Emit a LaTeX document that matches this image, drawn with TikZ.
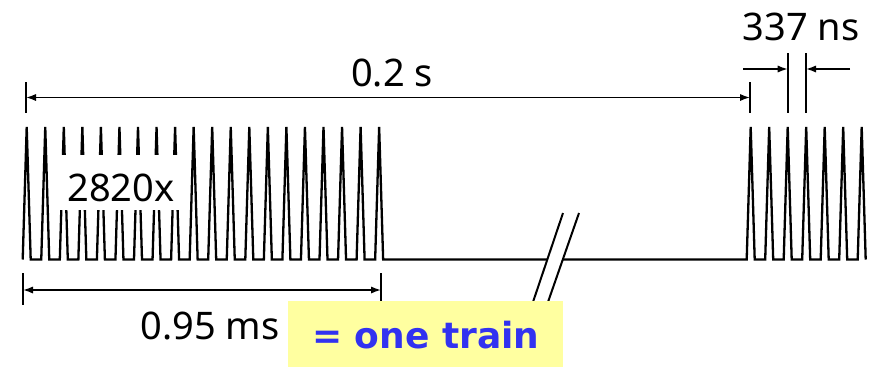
\documentclass[tikz,border=0pt]{standalone}
\usepackage{fontspec}
\setmainfont{Noto Sans}
\newfontfamily\trainfont{DejaVu Sans}
\usetikzlibrary{arrows.meta}
\definecolor{PulseClr}{RGB}{0,0,0}
\definecolor{NoteClr}{RGB}{255,255,160}
\definecolor{TrainClr}{RGB}{50,50,240}

\begin{document}
\begin{tikzpicture}[x=0.5pt,y=-0.5pt,
  pulse/.style={line width=1.15pt,draw=PulseClr,line join=miter},
  tick/.style={line width=1pt},
  dim/.style={line width=0.75pt,{Latex[length=5pt,width=3.6pt]}-{Latex[length=5pt,width=3.6pt]}},
  dimto/.style={line width=0.75pt,-{Latex[length=5pt,width=3.6pt]}},
  lbl/.style={font=\fontsize{19}{22}\selectfont,inner sep=0pt}]
\useasboundingbox (0,0) rectangle (879,366);

% one train (left) and start of next one (right)
\draw[pulse] (22.7,259.5) \foreach \i in {0,...,19}{
  -- ({26.7+18.55*\i-4},259.5) -- ({26.7+18.55*\i},127) -- ({26.7+18.55*\i+4},259.5)}
  -- (546.8,259.5);
\draw[pulse] (562,259.5) \foreach \i in {0,...,6}{
  -- ({750.7+18.5*\i-4},259.5) -- ({750.7+18.5*\i},127) -- ({750.7+18.5*\i+4},259.5)};

% break mark
\draw[line width=1pt] (533,302) -- (563,213);
\draw[line width=1pt] (548,302) -- (579,213);

% count label over the pulses
\fill[white] (57,155) rectangle (184,210);
\node[lbl] (count) at (121,188) {2820x};

% 0.2 s
\draw[tick] (26,82) -- (26,113);
\draw[tick] (750,82) -- (750,113);
\coordinate (periodL) at (26,97.5);
\coordinate (periodR) at (750,97.5);
\draw[dim] (periodL) -- (periodR);
\node[lbl] (period) at (392,73) {0.2 s};

% 337 ns
\draw[tick] (787.7,53) -- (787.7,113);
\draw[tick] (806,53) -- (806,113);
\coordinate (spaceL) at (787.7,69);
\coordinate (spaceR) at (806,69);
\coordinate (spaceLout) at (743,69);
\coordinate (spaceRout) at (850,69);
\draw[dimto] (spaceLout) -- (spaceL);
\draw[dimto] (spaceRout) -- (spaceR);
\node[lbl] (space) at (801,27) {337 ns};

% 0.95 ms
\draw[tick] (23,273) -- (23,305);
\draw[tick] (381,273) -- (381,305);
\coordinate (trainL) at (23,290);
\coordinate (trainR) at (381,290);
\draw[dim] (trainL) -- (trainR);
\node[lbl] (length) at (210,326) {0.95 ms};

% note
\node[fill=NoteClr,anchor=north west,minimum width=137.5pt,minimum height=34pt,
  inner sep=0pt,text=TrainClr,font=\fontsize{18}{22}\selectfont\trainfont\bfseries]
  (train) at (288,301) {= one train};

\end{tikzpicture}
\end{document}
